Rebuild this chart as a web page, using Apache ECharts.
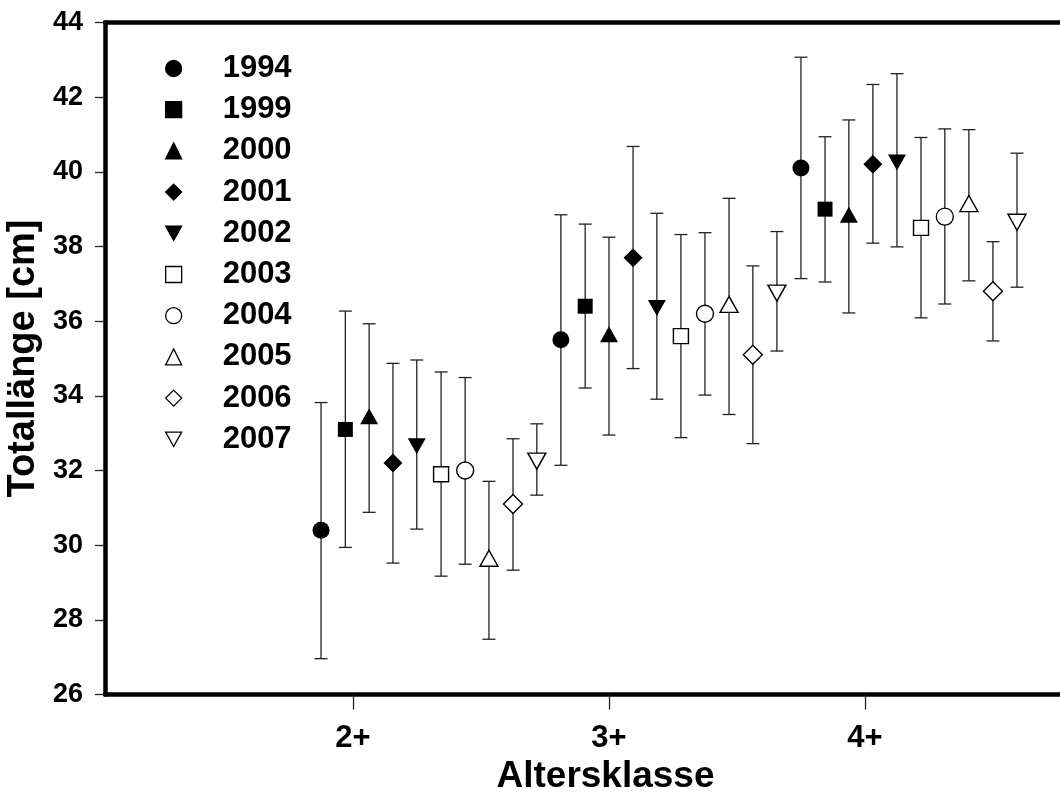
<!DOCTYPE html>
<html>
<head>
<meta charset="utf-8">
<title>Totallänge nach Altersklasse</title>
<script src="https://cdn.jsdelivr.net/npm/echarts@6/dist/echarts.min.js"></script>
<style>
    html, body { margin: 0; padding: 0; background: #fff; }
    #chart { width: 1060px; height: 794px; }
</style>
</head>
<body>
<div id="chart"></div>
<script>
// Altersklassen und ihre Lage auf der x-Achse
var ages = ['2+', '3+', '4+'];
var ageTicks = [2, 3, 4];

var years = ['1994', '1999', '2000', '2001', '2002', '2003', '2004', '2005', '2006', '2007'];

// x-Lage der Punkte je Altersklasse (ein Wert pro Jahr)
var xPos2 = [1.875, 1.970, 2.063, 2.156, 2.249, 2.344, 2.438, 2.531, 2.625, 2.718];
var xPos3 = [2.812, 2.907, 3.000, 3.094, 3.187, 3.281, 3.375, 3.469, 3.562, 3.656];
var xPos4 = [3.750, 3.844, 3.937, 4.031, 4.125, 4.219, 4.312, 4.406, 4.500, 4.594];

// Mittelwerte Totallänge [cm]
var mean2 = [30.4, 33.1, 33.45, 32.2, 32.65, 31.9, 32.0, 29.65, 31.1, 32.25];
var mean3 = [35.5, 36.4, 35.65, 37.7, 36.35, 35.6, 36.2, 36.45, 35.1, 36.75];
var mean4 = [40.1, 39.0, 38.85, 40.2, 40.25, 38.5, 38.8, 39.15, 36.8, 38.65];

// obere Fehlerbalken
var upper2 = [33.82, 36.27, 35.93, 34.87, 34.96, 34.64, 34.49, 31.71, 32.85, 33.25];
var upper3 = [38.85, 38.6, 38.25, 40.68, 38.89, 38.32, 38.37, 39.29, 37.48, 38.4];
var upper4 = [43.07, 40.94, 41.39, 42.34, 42.63, 40.92, 41.15, 41.13, 38.13, 40.5];

// untere Fehlerbalken
var lower2 = [26.96, 29.94, 30.88, 29.52, 30.43, 29.17, 29.49, 27.48, 29.33, 31.34];
var lower3 = [32.14, 34.21, 32.95, 34.73, 33.91, 32.88, 34.02, 33.5, 32.72, 35.2];
var lower4 = [37.14, 37.05, 36.22, 38.09, 37.99, 36.09, 36.46, 37.08, 35.47, 36.91];

var yTicks = { min: 26, max: 44, interval: 2 };

var downTriangle = 'path://M0,0L20,0L10,18Z';
var symbols = ['circle', 'rect', 'triangle', 'diamond', downTriangle,
               'rect', 'circle', 'triangle', 'diamond', downTriangle];
var sizes = [17, 15, [18, 16], [19, 19], [18, 16], 15, 17, [18, 16], [19, 19], [18, 16]];
var filled = [true, true, true, true, true, false, false, false, false, false];

var FONT = '"Liberation Sans", Arial, sans-serif';

var errData = [];
for (var i = 0; i < years.length; i++) {
    errData.push([xPos2[i], lower2[i], upper2[i]]);
    errData.push([xPos3[i], lower3[i], upper3[i]]);
    errData.push([xPos4[i], lower4[i], upper4[i]]);
}

var series = [{
    type: 'custom',
    name: 'err',
    z: 1,
    silent: true,
    encode: { x: 0, y: [1, 2] },
    data: errData,
    renderItem: function (params, api) {
        var x = api.value(0);
        var lo = api.coord([x, api.value(1)]);
        var hi = api.coord([x, api.value(2)]);
        var w = 6.5;
        var st = { stroke: '#222', lineWidth: 1.3 };
        return {
            type: 'group',
            children: [
                { type: 'line', shape: { x1: lo[0], y1: lo[1], x2: hi[0], y2: hi[1] }, style: st },
                { type: 'line', shape: { x1: lo[0] - w, y1: lo[1], x2: lo[0] + w, y2: lo[1] }, style: st },
                { type: 'line', shape: { x1: hi[0] - w, y1: hi[1], x2: hi[0] + w, y2: hi[1] }, style: st }
            ]
        };
    }
}];

years.forEach(function (y, i) {
    series.push({
        type: 'scatter',
        name: y,
        z: 3,
        symbol: symbols[i],
        symbolSize: sizes[i],
        itemStyle: {
            color: filled[i] ? '#000' : '#fff',
            borderColor: '#000',
            borderWidth: filled[i] ? 0 : 1.4,
            opacity: 1
        },
        data: [[xPos2[i], mean2[i]], [xPos3[i], mean3[i]], [xPos4[i], mean4[i]]]
    });
});

var chart = echarts.init(document.getElementById('chart'));
chart.setOption({
    animation: false,
    backgroundColor: '#fff',
    textStyle: { fontFamily: FONT },
    grid: { left: 105, right: 0, top: 22.5, bottom: 99.5, outerBoundsMode: 'none', containLabel: false },
    legend: {
        orient: 'vertical',
        left: 160,
        top: 48,
        itemWidth: 16,
        itemHeight: 16,
        itemGap: 10.2,
        selectedMode: false,
        data: years,
        itemStyle: { borderWidth: 1.3 },
        textStyle: { fontFamily: FONT, fontSize: 31, fontWeight: 'bold', color: '#000',
                     lineHeight: 30, padding: [0, 0, 0, 36] }
    },
    xAxis: [{
        type: 'value',
        min: 1.031,
        max: 4.762,
        name: 'Altersklasse',
        nameLocation: 'middle',
        nameGap: 58,
        nameTextStyle: { fontFamily: FONT, fontSize: 37, fontWeight: 'bold', color: '#000',
                         padding: [0, 0, 0, 46] },
        splitLine: { show: false },
        axisLine: { lineStyle: { color: '#000', width: 4.5 } },
        axisTick: { customValues: ageTicks, length: 15, lineStyle: { color: '#222', width: 1.3 } },
        axisLabel: {
            customValues: ageTicks,
            margin: 28,
            fontFamily: FONT, fontSize: 31, fontWeight: 'bold', color: '#000',
            formatter: function (v) { return ages[ageTicks.indexOf(v)] || ''; }
        }
    }, {
        type: 'value',
        position: 'top',
        min: 1.031,
        max: 4.762,
        splitLine: { show: false },
        axisLine: { lineStyle: { color: '#000', width: 4.5 } },
        axisTick: { show: false },
        axisLabel: { show: false }
    }],
    yAxis: {
        type: 'value',
        min: yTicks.min,
        max: yTicks.max,
        interval: yTicks.interval,
        name: 'Totallänge [cm]',
        nameLocation: 'middle',
        nameGap: 57,
        nameRotate: 90,
        nameTextStyle: { fontFamily: FONT, fontSize: 38, fontWeight: 'bold', color: '#000' },
        splitLine: { show: false },
        axisLine: { show: true, lineStyle: { color: '#000', width: 4.5 } },
        axisTick: { show: true, length: 10, lineStyle: { color: '#222', width: 1.3 } },
        axisLabel: { margin: 22, fontFamily: FONT, fontSize: 27, fontWeight: 'bold', color: '#000' }
    },
    series: series
});
</script>
</body>
</html>
